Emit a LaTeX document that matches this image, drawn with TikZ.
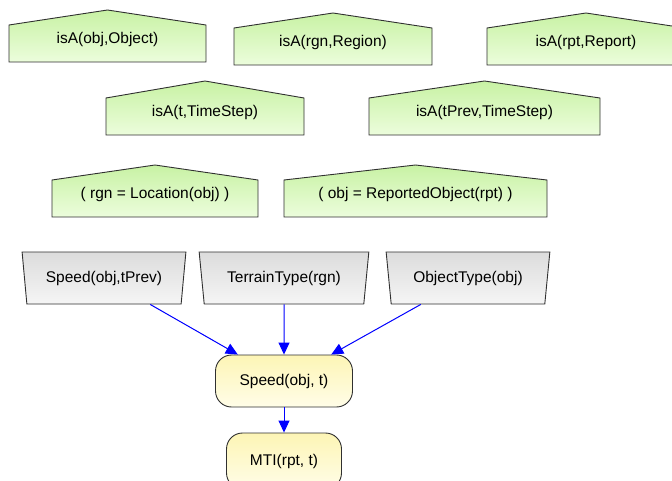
\documentclass[tikz,border=0pt]{standalone}
\usepackage{fontspec}
\setmainfont{Liberation Sans}
\usetikzlibrary{shapes.geometric,arrows.meta}
\definecolor{grtop}{HTML}{C8F2A4}
\definecolor{grbot}{HTML}{ECFDDC}
\definecolor{gytop}{HTML}{DCDCDC}
\definecolor{gybot}{HTML}{F5F5F5}
\definecolor{yltop}{HTML}{FDF5B5}
\definecolor{ylbot}{HTML}{FFFDE8}
\definecolor{edge}{HTML}{303030}
\newcommand\roofnode[7]{%
  \path[roofshape] (#2,#5) -- ({(#2+#3)/2},#4) -- (#3,#5) -- (#3,#6) -- (#2,#6) -- cycle;
  \node[lbl] (#1) at ({(#2+#3)/2},{(#5+#6)/2-4}) {#7};}
\begin{document}
\begin{tikzpicture}[x=1pt,y=-1pt,
  lbl/.style={font=\fontsize{15.5}{17}\selectfont, inner sep=0pt},
  roofshape/.style={draw=edge, line width=0.9pt, top color=grtop, bottom color=grbot},
  trap/.style={trapezium, shape border rotate=180, trapezium stretches=true,
    trapezium angle=76, minimum width=164pt, minimum height=52pt, inner sep=0pt,
    draw=edge, line width=0.9pt, top color=gytop, bottom color=gybot,
    font=\fontsize{15.5}{17}\selectfont},
  rnd/.style={rectangle, rounded corners=16pt, draw=edge, line width=0.9pt,
    top color=yltop, bottom color=ylbot, inner sep=0pt,
    font=\fontsize{15.5}{17}\selectfont},
  conn/.style={draw=blue, line width=1pt, -{Triangle[length=12pt,width=11pt]}}]
\useasboundingbox (0,0) rectangle (672,481);
\clip (0,0) rectangle (672,481);
\fill[white] (0,0) rectangle (672,481);
% row 1
\roofnode{r1a}{9}{206}{10}{25}{62}{isA(obj,Object)}
\roofnode{r1b}{234}{432}{13}{28}{65}{isA(rgn,Region)}
\roofnode{r1c}{487}{685}{13}{28}{65}{isA(rpt,Report)}
% row 2
\roofnode{r2a}{106}{304}{81}{98}{135}{isA(t,TimeStep)}
\roofnode{r2b}{369}{600}{81}{98}{135}{isA(tPrev,TimeStep)}
% row 3
\roofnode{r3a}{52}{258}{165}{180}{217}{( rgn = Location(obj) )}
\roofnode{r3b}{284}{547}{165}{180}{217}{( obj = ReportedObject(rpt) )}
% row 4
\node[trap] (sp) at (104,278) {Speed(obj,tPrev)};
\node[trap, minimum width=170pt] (tt) at (284,278) {TerrainType(rgn)};
\node[trap] (ot) at (468,278) {ObjectType(obj)};
% bottom
\node[rnd, minimum width=137pt, minimum height=52pt] (spt) at (284,381) {Speed(obj, t)};
\node[rnd, minimum width=115pt, minimum height=56pt] (mti) at (284,461) {MTI(rpt, t)};
\draw[conn] (sp) -- (spt);
\draw[conn] (tt) -- (spt);
\draw[conn] (ot) -- (spt);
\draw[conn] (spt) -- (mti);
\end{tikzpicture}
\end{document}
